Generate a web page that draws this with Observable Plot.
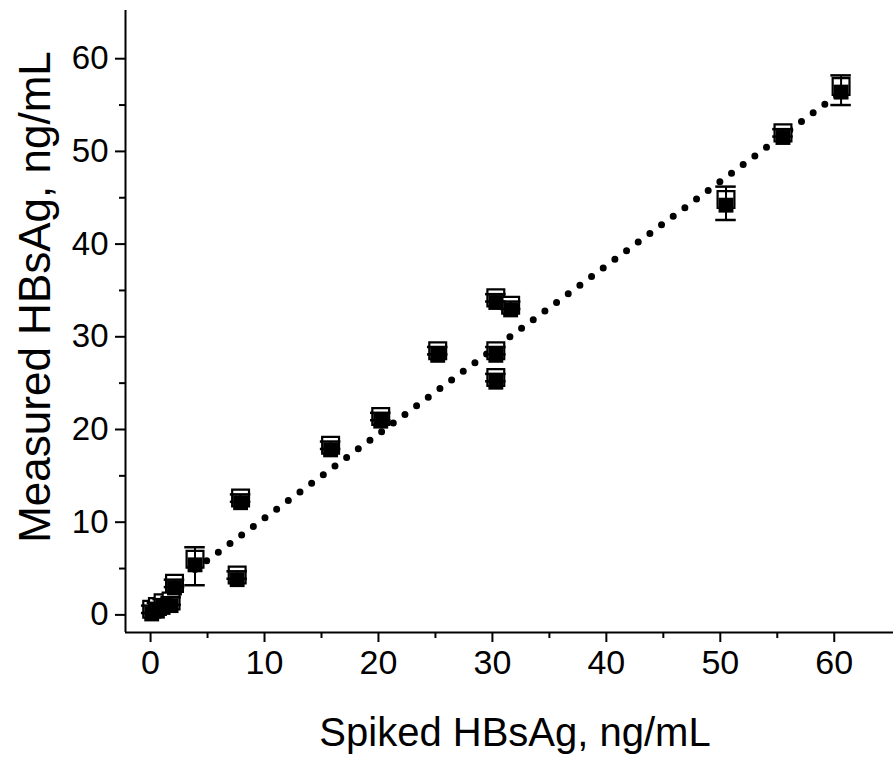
<!DOCTYPE html>
<html><head><meta charset="utf-8">
<script src="https://cdn.jsdelivr.net/npm/d3@7"></script>
<script src="https://cdn.jsdelivr.net/npm/@observablehq/plot@0.6"></script>
<style>body{margin:0;background:#fff;}</style>
</head><body><div id="chart"></div>
<script>
const spiked        = [0.1, 0.6, 1.1, 1.8, 2.1, 3.9, 7.6, 7.9, 15.8, 20.2, 25.2, 30.3, 30.3, 30.3, 31.6, 50.5, 55.5, 60.6];
const measuredOpen  = [0.6, 0.9, 1.3, 1.5, 3.4, 6.0, 4.3, 12.6, 18.3, 21.4, 28.5, 34.2, 28.5, 25.6, 33.4, 44.8, 52.0, 57.0];
const measuredFill  = [0.1, 0.4, 0.8, 1.0, 2.9, 5.4, 3.8, 12.1, 17.8, 20.9, 28.0, 33.7, 28.0, 25.1, 32.9, 44.2, 51.5, 56.4];
const errHigh       = [1.0, 1.3, 1.7, 1.9, 3.8, 7.3, 4.7, 13.0, 18.7, 21.8, 28.9, 34.6, 28.9, 26.0, 33.8, 46.2, 52.4, 58.2];
const errLow        = [0.2, 0.5, 0.9, 1.1, 3.0, 3.2, 3.9, 12.2, 17.9, 21.0, 28.1, 33.8, 28.1, 25.2, 33.0, 42.6, 51.6, 55.0];
// Dotted regression line end points
const fitX = [3.9, 60.4];
const fitY = [4.9, 56.2];
// Axes
const xDomain = [-2.2, 65.2];
const yDomain = [-1.9, 65.2];
const majorTicks = [0, 10, 20, 30, 40, 50, 60];
const minorTicks = [5, 15, 25, 35, 45, 55];
const xTitle = "Spiked HBsAg, ng/mL";
const yTitle = "Measured HBsAg, ng/mL";

const data = spiked.map((x, i) => ({x, open: measuredOpen[i], fill: measuredFill[i], hi: errHigh[i], lo: errLow[i]}));
const fit = fitX.map((x, i) => ({x, y: fitY[i]}));
const capHalf = 0.9;

const chart = Plot.plot({
  width: 893, height: 758,
  marginLeft: 125, marginRight: 0, marginTop: 10, marginBottom: 126,
  style: {fontFamily: "'Liberation Sans', Arial, sans-serif", background: "white", color: "black"},
  x: {domain: xDomain, label: null},
  y: {domain: yDomain, label: null},
  marks: [
    Plot.axisX({ticks: minorTicks, tickSize: 6, tickFormat: () => "", strokeWidth: 2, label: null}),
    Plot.axisX({ticks: majorTicks, tickSize: 10, tickPadding: 7, fontSize: 34, strokeWidth: 2, label: null}),
    Plot.axisY({ticks: minorTicks, tickSize: 6, tickFormat: () => "", strokeWidth: 2, label: null}),
    Plot.axisY({ticks: majorTicks, tickSize: 10, tickPadding: 7, fontSize: 33, strokeWidth: 2, label: null}),
    Plot.ruleX([xDomain[0]], {strokeWidth: 2}),
    Plot.ruleY([yDomain[0]], {strokeWidth: 2}),
    Plot.line(fit, {x: "x", y: "y", stroke: "black", strokeWidth: 7, strokeDasharray: "0 14.5", strokeLinecap: "round"}),
    Plot.dot(data, {x: "x", y: "open", symbol: "square", r: 9.5, fill: "white", stroke: "black", strokeWidth: 2.2}),
    Plot.dot(data, {x: "x", y: "fill", symbol: "square", r: 8.4, fill: "black", stroke: "none"}),
    Plot.ruleX(data, {x: "x", y1: "lo", y2: "hi", strokeWidth: 2}),
    Plot.ruleY(data, {y: "hi", x1: d => d.x - capHalf, x2: d => d.x + capHalf, strokeWidth: 2.5}),
    Plot.ruleY(data, {y: "lo", x1: d => d.x - capHalf, x2: d => d.x + capHalf, strokeWidth: 2.5})
  ]
});

const svg = d3.select(chart);
svg.append("text").attr("x", 515).attr("y", 746).attr("text-anchor", "middle")
  .attr("font-size", 40).attr("fill", "black").text(xTitle);
svg.append("text").attr("transform", "translate(50,297) rotate(-90)").attr("text-anchor", "middle")
  .attr("font-size", 44).attr("fill", "black").text(yTitle);

document.getElementById("chart").appendChild(chart);
</script>
</body></html>
